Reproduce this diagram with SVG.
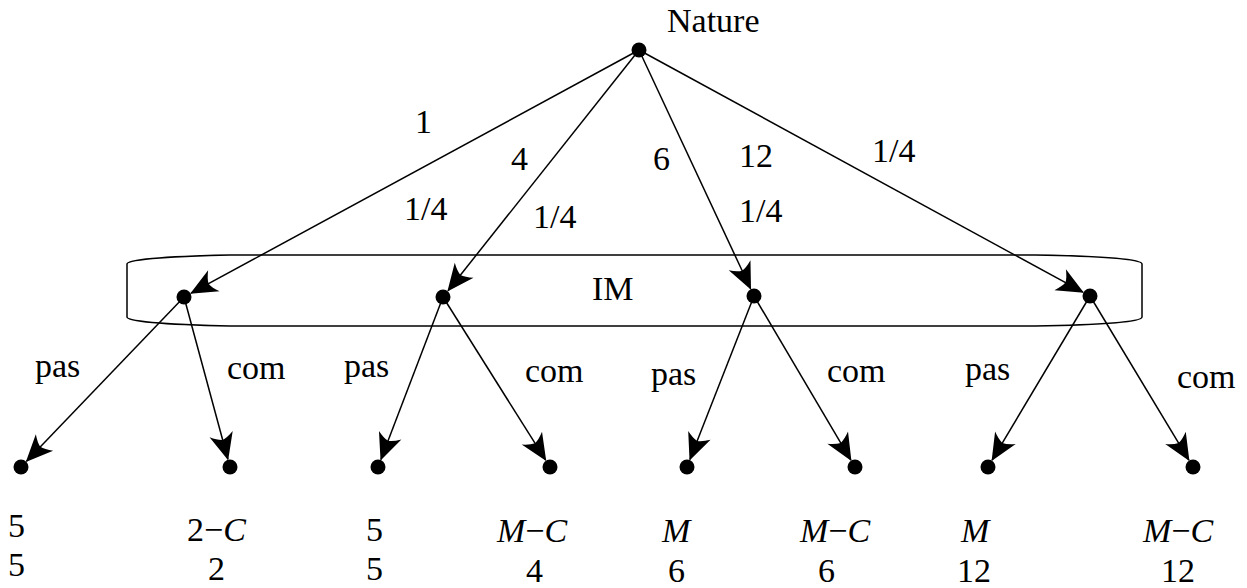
<svg xmlns="http://www.w3.org/2000/svg" width="1247" height="588" viewBox="0 0 1247 588" font-family="'Liberation Serif', 'Times New Roman', 'DejaVu Serif', serif">
<style>
text{font-family:'Liberation Serif','Times New Roman','DejaVu Serif',serif;font-size:34px;fill:#000}
.i{font-style:italic}
.e{stroke:#000;stroke-width:1.5;fill:none;marker-end:url(#ah)}
.n{fill:#000}
</style>
<defs>
<marker id="ah" viewBox="-29 -14 30 28" markerWidth="30" markerHeight="28" refX="0" refY="0" orient="auto" markerUnits="userSpaceOnUse">
<path d="M1,0 L-26,-12 Q-21,-5 -20,0 Q-21,5 -26,12 Z" fill="#000"/>
</marker>
</defs>
<rect width="1247" height="588" fill="#fff"/>
<g id="infoset">
<path d="M230,255 L1035,255 C1100,256 1142,259 1142,264 L1142,317 C1142,322 1100,325 1035,326 L230,326 C180,325 127,322 127,317 L127,264 C127,259 180,256 230,255 Z" fill="none" stroke="#000" stroke-width="1.5"/>
<text x="592" y="300">IM</text>
</g>
<g id="connectors">
<line class="e" x1="639" y1="50" x2="191" y2="293.2"/>
<line class="e" x1="639" y1="50" x2="448" y2="290.7"/>
<line class="e" x1="639" y1="50" x2="750.6" y2="288.8"/>
<line class="e" x1="639" y1="50" x2="1083" y2="292.2"/>
<line class="e" x1="184" y1="297" x2="26.5" y2="461.2"/>
<line class="e" x1="184" y1="297" x2="227.9" y2="459.3"/>
<line class="e" x1="443" y1="297" x2="380.9" y2="459.5"/>
<line class="e" x1="443" y1="297" x2="545.7" y2="460.2"/>
<line class="e" x1="754" y1="296" x2="689.9" y2="459.6"/>
<line class="e" x1="754" y1="296" x2="850.9" y2="460.1"/>
<line class="e" x1="1090" y1="296" x2="992.1" y2="460.1"/>
<line class="e" x1="1090" y1="296" x2="1188.9" y2="460.1"/>
</g>
<g id="edge-labels">
<text x="415" y="133">1</text>
<text x="511" y="170">4</text>
<text x="653" y="170">6</text>
<text x="739" y="167">12</text>
<text x="404" y="220">1/4</text>
<text x="533" y="228">1/4</text>
<text x="739" y="222">1/4</text>
<text x="872" y="162">1/4</text>
<text x="35" y="377">pas</text>
<text x="227" y="379">com</text>
<text x="344" y="377">pas</text>
<text x="525" y="382">com</text>
<text x="651" y="385">pas</text>
<text x="827" y="382">com</text>
<text x="965" y="380">pas</text>
<text x="1177" y="388">com</text>
</g>
<g id="nature">
<circle class="n" cx="639" cy="50" r="7.5"/>
<text x="667" y="32">Nature</text>
</g>
<g id="im1"><circle class="n" cx="184" cy="297" r="7.5"/></g>
<g id="im2"><circle class="n" cx="443" cy="297" r="7.5"/></g>
<g id="im3"><circle class="n" cx="754" cy="296" r="7.5"/></g>
<g id="im4"><circle class="n" cx="1090" cy="296" r="7.5"/></g>
<g id="leaf1"><circle class="n" cx="21" cy="467" r="7.5"/>
<text x="8" y="537">5</text><text x="8" y="576">5</text></g>
<g id="leaf2"><circle class="n" cx="230" cy="467" r="7.5"/>
<text x="187" y="541">2−<tspan class="i">C</tspan></text><text x="208" y="580">2</text></g>
<g id="leaf3"><circle class="n" cx="378" cy="467" r="7.5"/>
<text x="366" y="541">5</text><text x="366" y="580">5</text></g>
<g id="leaf4"><circle class="n" cx="550" cy="467" r="7.5"/>
<text x="497" y="542"><tspan class="i">M</tspan>−<tspan class="i">C</tspan></text><text x="526" y="582">4</text></g>
<g id="leaf5"><circle class="n" cx="687" cy="467" r="7.5"/>
<text class="i" x="662" y="542">M</text><text x="668" y="582">6</text></g>
<g id="leaf6"><circle class="n" cx="855" cy="467" r="7.5"/>
<text x="800" y="542"><tspan class="i">M</tspan>−<tspan class="i">C</tspan></text><text x="818" y="582">6</text></g>
<g id="leaf7"><circle class="n" cx="988" cy="467" r="7.5"/>
<text class="i" x="961" y="542">M</text><text x="957" y="582">12</text></g>
<g id="leaf8"><circle class="n" cx="1193" cy="467" r="7.5"/>
<text x="1143" y="542"><tspan class="i">M</tspan>−<tspan class="i">C</tspan></text><text x="1161" y="582">12</text></g>
</svg>
